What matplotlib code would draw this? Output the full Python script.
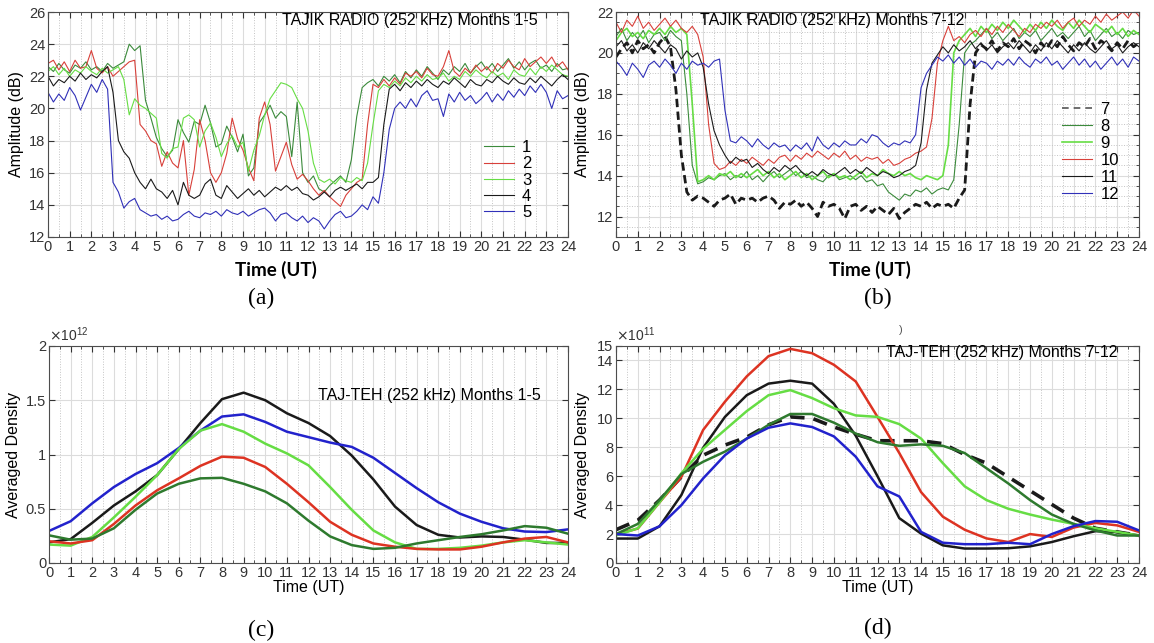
import numpy as np
import matplotlib
matplotlib.use("Agg")
import matplotlib.pyplot as plt
from matplotlib.ticker import MultipleLocator
from matplotlib.lines import Line2D

plt.rcParams.update({
    "font.family": "Liberation Sans",
    "font.size": 10.5,
    "axes.edgecolor": "#4d4d4d",
    "axes.linewidth": 0.8,
    "xtick.direction": "in",
    "ytick.direction": "in",
    "xtick.top": True,
    "ytick.right": True,
    "xtick.major.size": 4,
    "ytick.major.size": 4,
    "xtick.minor.size": 2,
    "ytick.minor.size": 2,
    "xtick.color": "#333333",
    "ytick.color": "#333333",
    "figure.facecolor": "white",
})

DGREEN, RED, LGREEN, BLACK, BLUE = "#3b8a3b", "#d8403a", "#66dd44", "#1a1a1a", "#3030b8"

# ---- panel (a): amplitude, months 1-5 (0.25 h steps) ----------------------
t_q = np.arange(97) * 0.25
amp_m1 = [22.6, 22.3, 22.8, 22.4, 22.2, 22.7, 22.5, 22.9, 22.4, 22.6, 22.3, 22.8,
          22.5, 22.7, 22.9, 24.0, 23.6, 23.9, 20.5, 19.4, 18.2, 17.5, 17.0, 17.4,
          19.3, 18.5, 17.9, 19.2, 19.0, 20.2, 19.1, 17.6, 17.8, 18.9, 18.2, 17.3,
          18.4, 15.8, 16.3, 19.1, 19.6, 20.2, 19.4, 19.8, 19.5, 17.0, 20.4, 16.0,
          15.4, 15.8, 15.0, 14.8, 15.2, 15.5, 15.8, 15.4, 16.8, 19.5, 21.3, 21.6,
          21.8, 21.4, 22.0, 21.7, 22.1, 21.6, 22.3, 21.9, 22.4, 22.0, 22.6, 22.2,
          21.8, 22.4, 22.1, 22.6, 22.3, 22.8, 22.2, 22.6, 22.9, 22.4, 22.8, 22.3,
          22.7, 23.1, 22.5, 22.9, 22.4, 22.8, 23.0, 22.5, 22.7, 22.3, 22.8, 22.4,
          22.5]
amp_m2 = [22.8, 23.0, 22.4, 22.9, 22.3, 23.0, 22.5, 22.6, 23.6, 22.5, 22.2, 22.6,
          22.0, 22.3, 22.6, 22.9, 23.0, 19.0, 18.6, 18.0, 17.8, 16.4, 17.3, 16.6,
          16.3, 18.0, 14.6, 16.2, 19.3, 18.0, 16.0, 15.4, 16.0, 17.2, 19.4, 18.1,
          17.4, 16.3, 15.5, 19.4, 20.4, 19.0, 16.1, 17.0, 17.9, 16.5, 15.6, 15.9,
          15.5, 15.0, 14.6, 14.9, 14.5, 14.2, 13.9, 14.6, 15.0, 15.4, 15.6, 19.0,
          21.5, 21.3, 21.8, 21.4, 21.9, 21.5, 22.2, 22.0, 22.3, 21.9, 22.5, 22.1,
          22.0, 22.6, 23.6, 22.3, 22.0, 22.5, 22.2, 22.7, 22.3, 22.6, 22.2, 22.8,
          22.5, 23.0, 22.6, 22.4, 23.1, 22.6, 22.9, 23.2, 22.8, 23.2, 22.6, 22.9,
          22.4]
amp_m3 = [22.3, 22.6, 22.1, 22.5, 22.0, 22.4, 22.2, 22.6, 22.3, 22.1, 22.5, 22.2,
          22.4, 22.6, 21.8, 19.6, 20.6, 20.2, 20.0, 19.7, 19.4, 17.2, 16.9, 17.5,
          17.6, 19.4, 19.6, 19.3, 17.6, 18.6, 19.1, 18.2, 17.0, 17.8, 18.3, 17.6,
          17.9, 16.1, 17.4, 18.3, 19.6, 20.6, 21.1, 21.6, 21.5, 21.3, 20.6, 20.0,
          18.6, 16.6, 15.6, 15.4, 15.6, 15.3, 15.7, 15.5, 15.4, 15.7, 15.5, 16.6,
          19.0, 21.1, 21.5, 21.3, 21.7, 21.4, 21.9, 21.6, 22.0, 21.7, 22.1, 21.8,
          21.9, 22.2, 21.7, 22.0, 21.8, 22.3, 22.0, 22.4, 22.1, 21.9, 22.3, 22.0,
          22.2, 21.8, 22.4, 22.1, 22.0, 22.5, 22.1, 22.6, 22.3, 22.7, 22.4, 22.1,
          22.0]
amp_m4 = [22.0, 21.4, 21.8, 21.6, 22.0, 21.7, 22.2, 21.8, 22.1, 21.9, 22.3, 22.6,
          21.0, 18.0, 17.3, 16.9, 16.0, 15.4, 15.0, 15.6, 15.0, 14.8, 14.4, 14.9,
          14.0, 15.4, 14.6, 14.4, 14.6, 15.3, 15.6, 14.6, 14.4, 15.2, 14.8, 14.4,
          14.7, 15.0, 14.6, 14.9, 14.5, 14.8, 15.1, 14.9, 15.2, 14.9, 15.1, 14.7,
          14.6, 14.3, 14.5, 14.8, 14.5, 14.9, 15.1, 14.9, 15.1, 15.3, 15.0, 15.4,
          15.4, 15.7, 19.0, 21.2, 21.5, 21.1, 21.6, 21.3, 21.7, 21.4, 21.8, 21.5,
          21.3, 21.7, 21.5, 21.9, 21.6, 21.3, 21.8, 21.5, 21.4, 21.8, 21.6, 22.0,
          21.7, 21.5, 21.9, 21.6, 21.5, 21.9, 21.6, 22.0, 21.7, 21.4, 21.8, 22.1,
          21.8]
amp_m5 = [21.0, 20.4, 20.9, 20.5, 21.3, 20.8, 19.9, 20.7, 21.5, 21.0, 21.8, 21.2,
          15.4, 14.8, 13.8, 14.2, 14.4, 13.7, 13.5, 13.3, 13.4, 13.1, 13.3, 13.0,
          13.1, 13.4, 13.6, 13.3, 13.2, 13.5, 13.4, 13.6, 13.3, 13.7, 13.5, 13.4,
          13.6, 13.3, 13.5, 13.7, 13.8, 13.5, 13.0, 13.4, 13.5, 13.2, 13.0, 13.3,
          12.9, 13.2, 13.0, 12.5, 13.0, 13.4, 13.6, 13.2, 13.3, 13.6, 14.0, 13.7,
          14.5, 14.1, 16.0, 18.7, 20.0, 20.4, 20.0, 20.6, 20.1, 20.8, 21.1, 20.5,
          20.6, 19.5, 20.9, 20.4, 21.0, 20.5, 20.8, 20.3, 20.6, 21.0, 20.4, 20.9,
          20.5, 21.1, 20.7, 21.2, 20.8, 21.4, 21.0, 21.5, 21.0, 20.0, 21.1, 20.6,
          20.8]

# ---- panel (b): amplitude, months 7-12 ------------------------------------
amp_m7 = [19.8, 20.2, 20.5, 20.0, 20.6, 20.2, 20.4, 20.0, 20.5, 20.8, 20.3, 18.2,
          15.0, 13.2, 12.8, 13.0, 12.9, 12.7, 12.5, 12.8, 12.9, 13.1, 12.6, 12.9,
          12.8, 12.9, 12.7, 12.9, 13.0, 12.8, 12.4, 12.7, 12.6, 12.8, 12.5, 12.7,
          12.4, 12.0, 12.7, 12.5, 12.6, 12.4, 11.9, 12.5, 12.6, 12.3, 12.5, 12.2,
          12.5, 12.3, 12.1, 12.4, 11.9, 12.2, 12.4, 12.6, 12.5, 12.7, 12.4, 12.6,
          12.5, 12.6, 12.4, 12.9, 13.3, 17.5, 20.0, 20.4, 20.2, 20.6, 20.1, 20.5,
          20.3, 20.7, 20.2, 20.6, 20.4, 20.0, 20.5, 20.2, 20.6, 20.3, 20.8, 20.4,
          20.1, 20.5, 20.3, 20.7, 20.2, 20.6, 20.4, 20.1, 20.5, 20.2, 20.6, 20.3,
          20.5]
amp_m8 = [20.8, 21.2, 20.6, 21.0, 20.7, 21.1, 20.5, 20.9, 21.0, 20.6, 21.1, 20.8,
          20.6, 18.0, 14.5, 13.6, 13.7, 13.9, 13.8, 14.0, 14.1, 13.8, 14.0, 13.9,
          14.2, 13.8, 14.0, 13.7, 14.0, 14.2, 13.9, 14.1, 14.3, 14.0, 14.2, 13.9,
          14.0, 13.8, 13.7, 14.0, 14.1, 13.8, 13.9, 14.0, 13.8, 14.0, 13.7, 13.8,
          13.5, 13.6, 13.2, 13.0, 12.8, 13.1, 13.0, 13.3, 13.2, 13.4, 13.1, 13.3,
          13.4, 13.3, 13.8, 16.5, 20.0, 20.4, 20.6, 20.9, 21.2, 20.7, 21.0, 20.6,
          20.9, 21.2, 20.7, 21.0, 20.8, 21.1, 20.6, 20.9, 21.2, 20.8, 21.0, 20.7,
          21.0, 21.3, 20.8, 21.1, 20.6, 20.9, 21.2, 20.8, 21.0, 20.7, 21.1, 20.9,
          21.0]
amp_m9 = [20.6, 21.0, 21.2, 20.8, 21.0, 20.7, 21.1, 20.9, 21.2, 20.9, 21.3, 21.0,
          21.2, 20.9, 17.5, 13.7, 13.8, 14.0, 13.8, 14.1, 14.0, 14.2, 13.9, 14.1,
          13.9, 14.1, 14.3, 14.0, 14.2, 13.9, 14.1, 13.8, 14.0, 14.2, 13.9, 14.1,
          13.8, 14.0, 14.2, 13.9, 14.1, 13.9, 14.0, 13.8, 14.0, 14.2, 13.9, 14.1,
          14.0, 14.3, 14.1, 14.0, 14.2, 14.0, 14.1, 13.9, 13.8, 14.0, 13.9, 13.8,
          14.0, 15.5, 20.0, 20.6, 20.9, 21.2, 20.8, 21.3, 21.0, 21.4, 21.1, 21.5,
          21.2, 21.6, 21.3, 21.0, 21.4, 21.1, 21.5, 21.2, 21.6, 21.3, 21.1, 21.5,
          21.2, 21.6, 21.3, 21.0, 21.4, 21.2, 21.0, 21.3, 20.9, 21.2, 20.8, 21.1,
          20.9]
amp_m10 = [21.5, 21.0, 21.6, 21.3, 21.8, 21.2, 21.5, 21.1, 21.4, 21.7, 21.3, 21.6,
           21.2, 21.0, 21.3, 20.9, 19.8, 16.5, 14.6, 14.3, 14.4, 14.7, 14.5, 14.8,
           14.6, 14.9, 14.7, 14.5, 14.8, 14.6, 14.9, 15.0, 14.7, 15.0, 14.8, 15.1,
           14.9, 15.2, 15.0, 14.8, 15.1, 14.9, 15.2, 14.8, 15.0, 14.7, 14.9, 14.8,
           14.9, 14.6, 14.8, 14.5, 14.6, 14.8, 14.9, 15.1, 15.2, 15.4, 16.8, 19.5,
           20.6, 21.3, 20.6, 20.8, 20.5, 20.9, 21.1, 20.8, 21.2, 20.9, 21.3, 21.0,
           21.4, 21.1, 20.8, 21.2, 21.0, 21.4, 21.2, 21.5, 21.3, 21.6, 21.2, 21.5,
           21.7, 21.3, 21.6, 21.4, 21.8, 21.5, 21.9, 21.6, 21.8, 22.0, 21.7, 22.1,
           21.8]
amp_m11 = [20.3, 20.6, 20.1, 20.4, 20.0, 20.5, 20.2, 20.6, 20.3, 20.0, 20.4, 20.2,
           19.7, 20.1, 19.8, 20.0, 19.3, 17.5, 16.2, 15.5, 15.0, 14.6, 14.9, 14.7,
           14.8, 14.4, 14.6, 14.3, 14.1, 14.4, 14.2, 14.5, 14.3, 14.5, 14.2, 14.0,
           14.2, 14.0, 14.3, 14.1, 14.0, 14.2, 14.4, 14.1, 14.3, 14.1, 14.4, 14.2,
           14.0, 14.2, 14.1, 13.9, 14.0, 14.2, 14.3, 14.5, 15.6, 18.2, 19.5, 19.9,
           20.3, 20.0, 20.4, 20.1, 20.3, 20.6, 20.2, 20.5, 20.1, 20.4, 20.0, 20.3,
           20.5, 20.2, 20.6, 20.3, 20.0, 20.4, 20.1, 20.5, 20.2, 20.6, 20.3, 20.0,
           20.4, 20.1, 20.5, 20.2, 20.0, 20.3, 20.6, 20.2, 20.4, 20.0, 20.3, 20.5,
           20.3]
amp_m12 = [19.6, 19.3, 18.9, 19.5, 19.2, 18.8, 19.4, 19.6, 19.3, 19.7, 19.4, 19.0,
           19.5, 19.2, 19.6, 19.4, 19.5, 19.3, 19.6, 19.7, 17.2, 15.7, 15.6, 15.9,
           15.7, 15.4, 15.8, 15.5, 15.3, 15.6, 15.4, 15.5, 15.2, 15.5, 15.3, 15.6,
           15.2, 15.9, 15.5, 15.3, 15.6, 15.4, 15.7, 15.5, 15.5, 15.8, 15.6, 16.0,
           15.9, 15.6, 15.4, 15.6, 15.5, 15.7, 15.6, 16.0, 18.3, 19.0, 19.4, 19.8,
           19.6, 19.9, 19.5, 19.8, 19.4, 19.7, 19.3, 19.6, 19.5, 19.2, 19.6, 19.4,
           19.7, 19.4, 19.8, 19.5, 19.3, 19.7, 19.5, 19.8, 19.4, 19.6, 19.2, 19.5,
           19.8, 19.4, 19.7, 19.3, 19.6, 19.2, 19.5, 19.8, 19.4, 19.7, 19.3, 19.8,
           19.6]

# ---- panels (c), (d): hourly averaged density -----------------------------
hours = np.arange(25)
c_black = [0.19, 0.22, 0.37, 0.53, 0.66, 0.81, 1.05, 1.29, 1.51, 1.57, 1.50, 1.38, 1.29,
           1.17, 0.99, 0.77, 0.52, 0.35, 0.26, 0.235, 0.245, 0.24, 0.215, 0.185, 0.185]
c_blue = [0.295, 0.385, 0.55, 0.70, 0.82, 0.92, 1.06, 1.22, 1.35, 1.37, 1.30, 1.21, 1.16,
          1.11, 1.07, 0.97, 0.83, 0.69, 0.56, 0.455, 0.38, 0.32, 0.29, 0.285, 0.31]
c_lgreen = [0.17, 0.16, 0.24, 0.42, 0.61, 0.81, 1.05, 1.22, 1.28, 1.21, 1.10, 1.01, 0.90,
            0.70, 0.49, 0.30, 0.19, 0.13, 0.13, 0.14, 0.16, 0.19, 0.21, 0.19, 0.17]
c_red = [0.20, 0.18, 0.21, 0.36, 0.53, 0.67, 0.78, 0.895, 0.98, 0.97, 0.885, 0.73, 0.56,
         0.38, 0.26, 0.18, 0.15, 0.13, 0.125, 0.125, 0.15, 0.19, 0.225, 0.24, 0.19]
c_dgreen = [0.255, 0.215, 0.225, 0.32, 0.49, 0.64, 0.73, 0.78, 0.785, 0.73, 0.66, 0.55, 0.39,
            0.245, 0.165, 0.13, 0.14, 0.18, 0.21, 0.24, 0.265, 0.30, 0.34, 0.325, 0.27]

d_red = [1.98, 2.38, 4.2, 5.95, 9.2, 11.15, 12.9, 14.3, 14.8, 14.5, 13.7, 12.55, 10.1,
         7.6, 4.9, 3.2, 2.3, 1.7, 1.45, 2.0, 1.8, 2.45, 2.77, 2.6, 2.15]
d_black = [1.69, 1.69, 2.54, 4.7, 7.97, 10.1, 11.6, 12.4, 12.6, 12.4, 11.0, 8.8, 6.0,
           3.1, 2.03, 1.22, 1.0, 1.0, 1.02, 1.15, 1.45, 1.85, 2.2, 2.15, 1.9]
d_lgreen = [1.9, 2.4, 4.2, 6.2, 7.9, 9.2, 10.5, 11.6, 11.95, 11.4, 10.7, 10.2, 10.1,
            9.6, 8.6, 6.9, 5.3, 4.35, 3.75, 3.35, 3.0, 2.7, 2.4, 2.15, 1.9]
d_dgreen = [2.0, 2.7, 4.35, 6.15, 7.0, 7.7, 8.6, 9.55, 10.3, 10.3, 9.7, 8.95, 8.35,
            8.1, 8.2, 8.1, 7.6, 6.55, 5.5, 4.35, 3.35, 2.7, 2.25, 1.9, 1.9]
d_dash = [2.3, 2.95, 4.35, 5.95, 7.45, 8.15, 8.7, 9.55, 10.1, 10.0, 9.4, 8.9, 8.45,
          8.45, 8.45, 8.25, 7.5, 6.9, 5.95, 5.0, 4.05, 3.1, 2.4, 2.15, 1.9]
d_blue = [2.0, 1.9, 2.54, 4.0, 5.85, 7.45, 8.6, 9.35, 9.65, 9.4, 8.75, 7.35, 5.3,
          4.6, 2.15, 1.4, 1.3, 1.3, 1.4, 1.3, 2.0, 2.55, 2.9, 2.85, 2.25]

W, H = 1154, 643


def box(l, t, r, b):
    return [l / W, 1 - b / H, (r - l) / W, (b - t) / H]


def style(ax, ymajor):
    ax.set_xlim(0, 24)
    ax.set_xticks(range(25))
    ax.xaxis.set_minor_locator(MultipleLocator(0.5))
    ax.yaxis.set_major_locator(MultipleLocator(ymajor))
    ax.grid(which="major", color="#dcdcdc", lw=0.8)
    ax.grid(which="minor", axis="x", color="#c4c4c4", lw=0.7, ls=":")
    ax.set_axisbelow(True)
    ax.tick_params(labelsize=10.5, pad=2)


fig = plt.figure(figsize=(W / 100, H / 100), dpi=100)

# (a)
ax = fig.add_axes(box(48, 12, 568, 237))
for y, c, lab in [(amp_m1, DGREEN, "1"), (amp_m2, RED, "2"), (amp_m3, LGREEN, "3"),
                  (amp_m4, BLACK, "4"), (amp_m5, BLUE, "5")]:
    ax.plot(t_q, y, color=c, lw=0.8, label=lab)
style(ax, 2)
ax.set_ylim(12, 26)
ax.set_ylabel("Amplitude (dB)", fontsize=11.5)
ax.yaxis.set_label_coords(-0.046, 0.5)
ax.text(0.45, 0.962, "TAJIK RADIO (252 kHz) Months 1-5", transform=ax.transAxes,
        fontsize=11.5, va="center", ha="left")
ax.legend(loc="upper left", bbox_to_anchor=(0.838, 0.43), frameon=False, fontsize=12,
          handlelength=1.8, handletextpad=0.5, labelspacing=0.07, borderpad=0,
          borderaxespad=0)

# (b)
ax = fig.add_axes(box(616, 12, 1139, 237))
ax.plot(t_q, amp_m7, color=BLACK, lw=2.0, ls=(0, (3, 1.6)))
handles = [Line2D([], [], color="#555555", lw=1.2, ls=(0, (4, 3)))]
for y, c, lab in [(amp_m8, DGREEN, "8"), (amp_m9, LGREEN, "9"), (amp_m10, RED, "10"),
                  (amp_m11, BLACK, "11"), (amp_m12, BLUE, "12")]:
    handles += ax.plot(t_q, y, color=c, lw=0.8 if lab != "9" else 1.2)
style(ax, 2)
ax.yaxis.set_minor_locator(MultipleLocator(0.5))
ax.grid(which="minor", axis="y", color="#c4c4c4", lw=0.7, ls=":")
ax.set_ylim(11, 22)
ax.set_ylabel("Amplitude (dB)", fontsize=11.5)
ax.yaxis.set_label_coords(-0.05, 0.5)
ax.text(0.161, 0.962, "TAJIK RADIO (252 kHz) Months 7-12", transform=ax.transAxes,
        fontsize=11.5, va="center", ha="left")
ax.legend(handles, ["7", "8", "9", "10", "11", "12"], loc="upper left",
          bbox_to_anchor=(0.853, 0.60), frameon=False, fontsize=12,
          handlelength=1.8, handletextpad=0.5, labelspacing=0.12, borderpad=0,
          borderaxespad=0)

# (c)
ax = fig.add_axes(box(49, 346, 568, 563))
for y, c in [(c_black, BLACK), (c_blue, "#2222cc"), (c_lgreen, LGREEN),
             (c_red, "#dd3322"), (c_dgreen, "#2e7a2e")]:
    ax.plot(hours, y, color=c, lw=1.8)
style(ax, 0.5)
ax.set_ylim(0, 2)
ax.set_yticks([0, 0.5, 1, 1.5, 2])
ax.set_yticklabels(["0", "0.5", "1", "1.5", "2"])
ax.set_ylabel("Averaged Density", fontsize=11.5)
ax.yaxis.set_label_coords(-0.053, 0.5)
ax.set_xlabel("Time (UT)", fontsize=11.5, labelpad=0)
ax.text(0.0, 1.01, r"$\times\mathregular{10^{12}}$", transform=ax.transAxes,
        fontsize=10, va="bottom", ha="left", color="#333333")
ax.text(0.518, 0.774, "TAJ-TEH (252 kHz) Months 1-5", transform=ax.transAxes,
        fontsize=11.5, va="center", ha="left")

# (d)
ax = fig.add_axes(box(616, 346, 1139, 563))
ax.plot(hours, d_dash, color=BLACK, lw=2.6, ls=(0, (4, 2.5)))
for y, c in [(d_red, "#dd3322"), (d_black, BLACK), (d_lgreen, LGREEN),
             (d_dgreen, "#2e7a2e"), (d_blue, "#2222cc")]:
    ax.plot(hours, y, color=c, lw=1.8)
style(ax, 2)
ax.set_ylim(0, 15)
ax.set_yticks([0, 2, 4, 6, 8, 10, 12, 14, 15])
ax.set_ylabel("Averaged Density", fontsize=11.5)
ax.yaxis.set_label_coords(-0.05, 0.5)
ax.set_xlabel("Time (UT)", fontsize=11.5, labelpad=0)
ax.text(0.0, 1.01, r"$\times\mathregular{10^{11}}$", transform=ax.transAxes,
        fontsize=10, va="bottom", ha="left", color="#333333")
ax.text(0.516, 0.972, "TAJ-TEH (252 kHz) Months 7-12", transform=ax.transAxes,
        fontsize=11.5, va="center", ha="left")

# captions
for x, y, s in [(276, 270, "Time (UT)"), (870, 270, "Time (UT)")]:
    fig.text(x / W, 1 - y / H, s, fontsize=13.5, fontweight="bold", family="Lato",
             ha="center", va="center")
for x, y, s in [(261, 298, "(a)"), (878, 298, "(b)"), (261, 630, "(c)"), (878, 628, "(d)")]:
    fig.text(x / W, 1 - y / H, s, fontsize=17, family="Liberation Serif",
             ha="center", va="center")
fig.text(901 / W, 1 - 330 / H, ")", fontsize=8, ha="center", va="center", color="#555555")

fig.savefig("out.png", dpi=100)
